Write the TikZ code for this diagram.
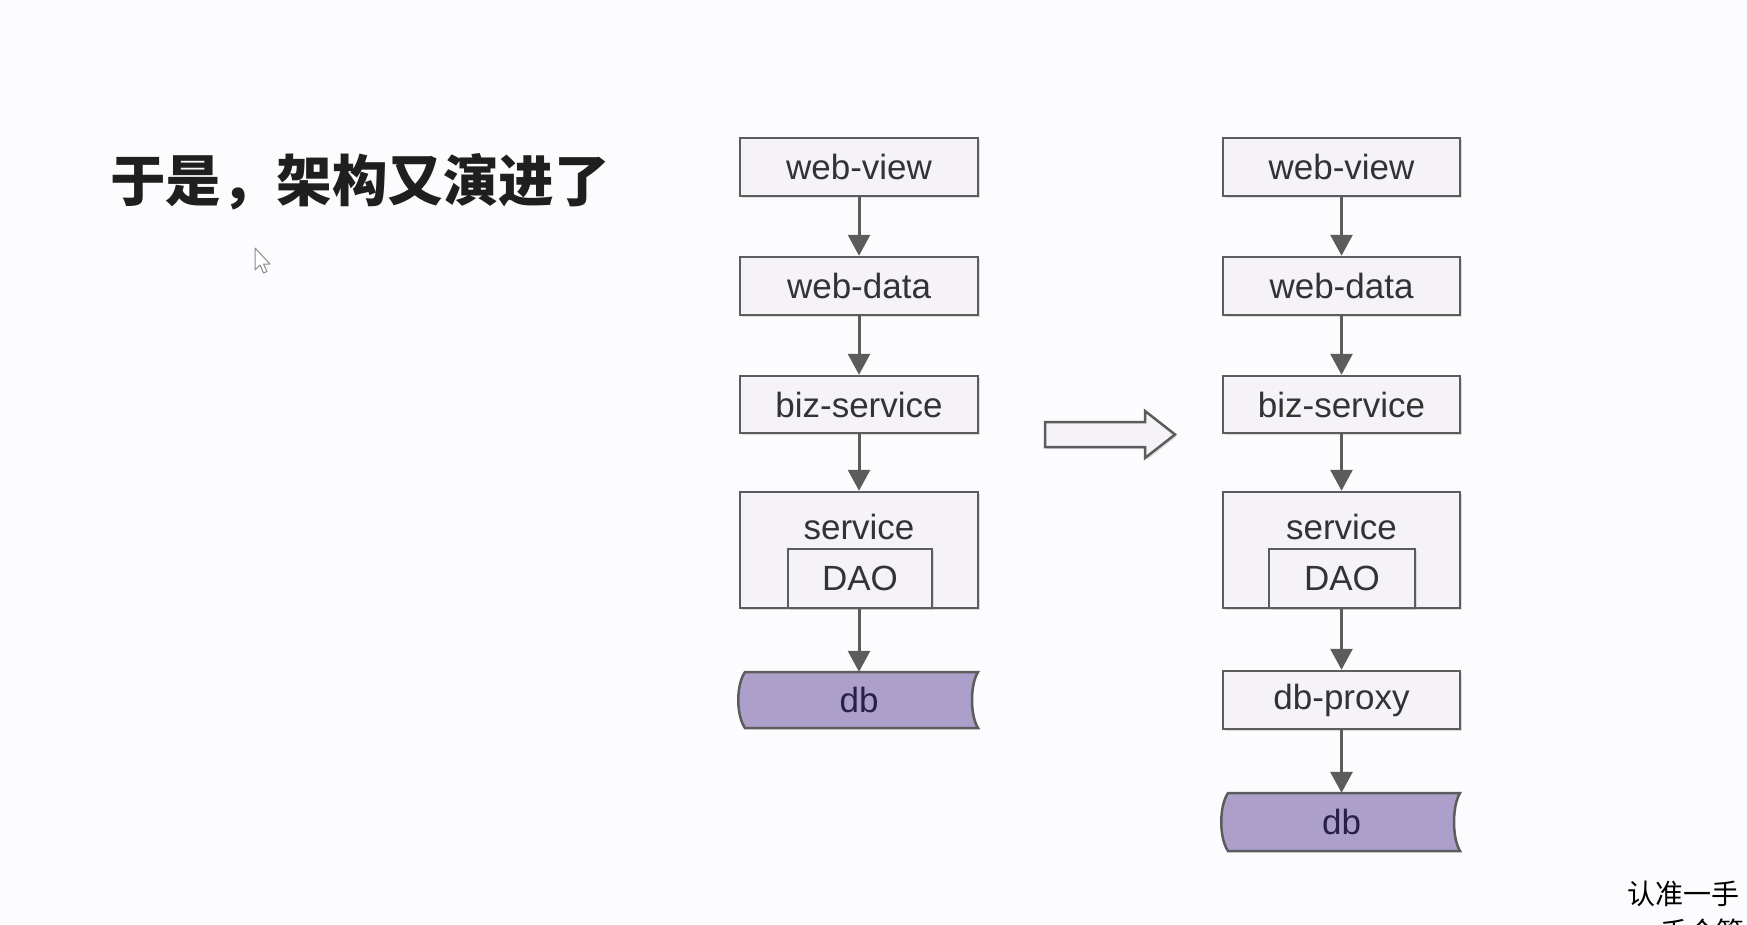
\documentclass[tikz,border=0pt]{standalone}
\usepackage{fontspec}
\setmainfont{Liberation Sans}
\newfontfamily\cjk{Noto Sans CJK SC}
\usetikzlibrary{arrows.meta,shadows}
\definecolor{bgc}{HTML}{FCFBFD}
\definecolor{boxfill}{HTML}{F5F3F7}
\definecolor{boxline}{HTML}{5C5C5C}
\definecolor{dbfill}{RGB}{172,160,202}
\definecolor{txt}{HTML}{333333}
\tikzset{
  layer/.style={draw=boxline, line width=2.5pt, fill=boxfill, text=txt,
    font=\fontsize{35}{40}\selectfont, inner sep=0pt,
    drop shadow={shadow xshift=2pt, shadow yshift=-2pt, opacity=0.25}},
  flow/.style={draw=boxline, line width=3pt, -{Triangle[length=21pt,width=22pt]}},
  dbshape/.style={draw=boxline, line width=2.5pt, fill=dbfill},
}
\begin{document}
\begin{tikzpicture}[x=1pt,y=-1pt]
\clip (0,0) rectangle (1747,924);
\fill[bgc] (0,0) rectangle (1747,924);
\useasboundingbox (0,0) rectangle (1747,924);

% title
\node[anchor=west, inner sep=0pt, text=black!88] (title) at (110,182)
  {\cjk\bfseries\fontsize{55.5}{60}\selectfont 于是，架构又演进了};

% cursor
\draw[line width=1pt, draw=black!45, fill=white, line join=round]
  (255,248) -- (255,270) -- (260,265) -- (263.5,273) -- (267,271.5) -- (263.5,264) -- (270,264) -- cycle;

% left column
\node[layer, minimum width=238pt, minimum height=58pt] (lv) at (859,167) {web-view};
\node[layer, minimum width=238pt, minimum height=58pt] (ld) at (859,286) {web-data};
\node[layer, minimum width=238pt, minimum height=57pt] (lb) at (859,404.5) {biz-service};
\node[layer, minimum width=238pt, minimum height=116pt] (ls) at (859,550) {};
\node[text=txt, font=\fontsize{35}{40}\selectfont] (lst) at (859,527) {service};
\node[layer, drop shadow={opacity=0}, minimum width=144pt, minimum height=59pt] (lao) at (860,578.5) {DAO};
\node[minimum width=238pt, minimum height=56pt, inner sep=0pt] (ldb) at (859,700) {};
\draw[dbshape] (745,672) -- (978,672) .. controls (970,685) and (970,715) .. (978,728)
  -- (745,728) .. controls (736,715) and (736,685) .. (745,672) -- cycle;
\node[text={rgb,255:red,40;green,32;blue,70}, font=\fontsize{35}{40}\selectfont] at (ldb) {db};

\draw[flow] (lv.south) -- (ld.north);
\draw[flow] (ld.south) -- (lb.north);
\draw[flow] (lb.south) -- (ls.north);
\draw[flow] (ls.south) -- (ldb.north);

% big arrow
\draw[draw=boxline, line width=2.5pt, fill=boxfill, line join=miter,
  drop shadow={shadow xshift=2pt, shadow yshift=-2pt, opacity=0.2}]
  (1045,422) -- (1145,422) -- (1145,411) -- (1175,434.5) -- (1145,458) -- (1145,447) -- (1045,447) -- cycle;

% right column
\node[layer, minimum width=237pt, minimum height=58pt] (rv) at (1341.5,167) {web-view};
\node[layer, minimum width=237pt, minimum height=58pt] (rd) at (1341.5,286) {web-data};
\node[layer, minimum width=237pt, minimum height=57pt] (rb) at (1341.5,404.5) {biz-service};
\node[layer, minimum width=237pt, minimum height=116pt] (rs) at (1341.5,550) {};
\node[text=txt, font=\fontsize{35}{40}\selectfont] (rst) at (1341.5,527) {service};
\node[layer, drop shadow={opacity=0}, minimum width=146pt, minimum height=59pt] (rao) at (1342,578.5) {DAO};
\node[layer, minimum width=237pt, minimum height=58pt] (rp) at (1341.5,700) {db-proxy};
\node[minimum width=237pt, minimum height=58pt, inner sep=0pt] (rdb) at (1341.5,822) {};
\draw[dbshape] (1228,793) -- (1460,793) .. controls (1452,806) and (1452,838) .. (1460,851)
  -- (1228,851) .. controls (1219,838) and (1219,806) .. (1228,793) -- cycle;
\node[text={rgb,255:red,40;green,32;blue,70}, font=\fontsize{35}{40}\selectfont] at (rdb) {db};

\draw[flow] (rv.south) -- (rd.north);
\draw[flow] (rd.south) -- (rb.north);
\draw[flow] (rb.south) -- (rs.north);
\draw[flow] (rs.south) -- (rp.north);
\draw[flow] (rp.south) -- (rdb.north);

% corner text
\node[anchor=west, inner sep=0pt] (wm1) at (1627,894) {\cjk\fontsize{28}{30}\selectfont 认准一手};
\node[anchor=west, inner sep=0pt] (wm2) at (1660,932) {\cjk\fontsize{28}{30}\selectfont 千个管};
\end{tikzpicture}
\end{document}
